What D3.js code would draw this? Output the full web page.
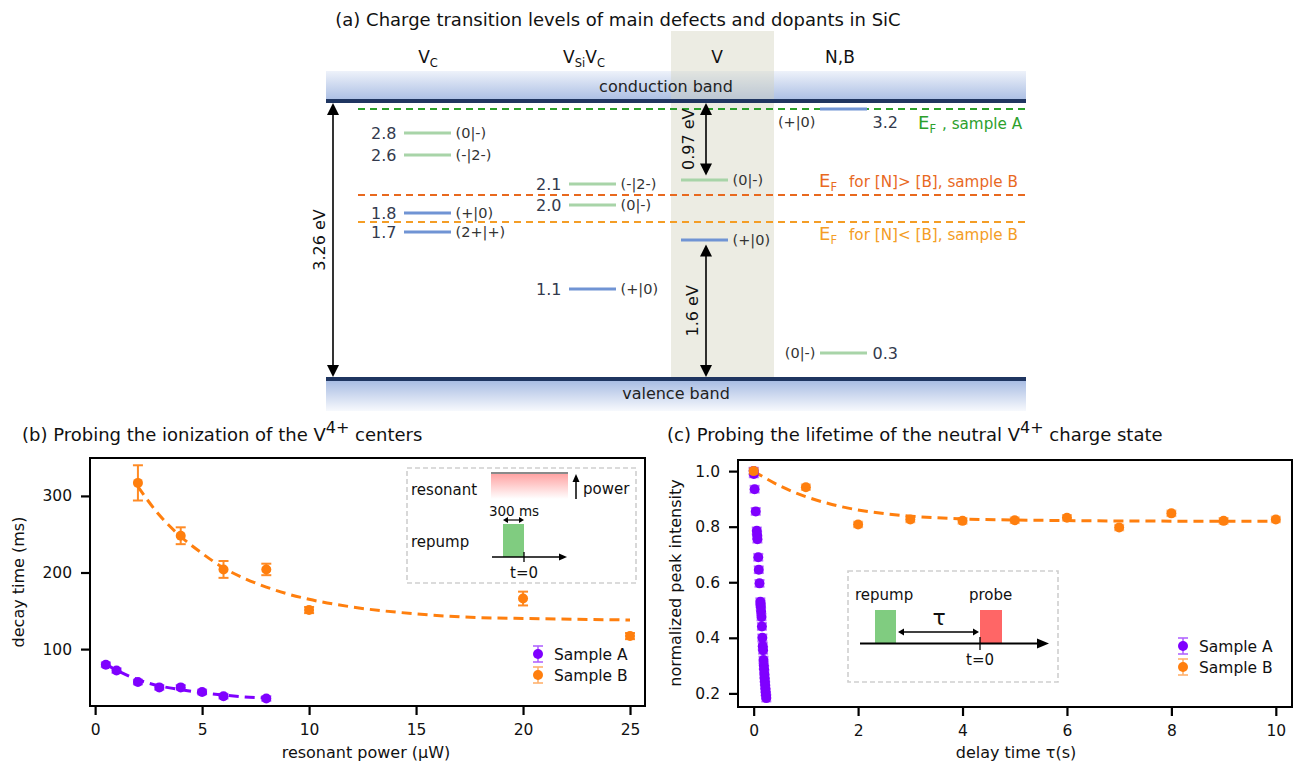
<!DOCTYPE html>
<html>
<head>
<meta charset="utf-8">
<script src="https://cdn.jsdelivr.net/npm/d3@7"></script>
<style>
  body { margin: 0; background: #fff; }
  svg { font-family: "DejaVu Sans", Verdana, sans-serif; }
</style>
</head>
<body>
<svg id="fig" width="1296" height="767"></svg>
<script>
//-------------------------------
// (a) charge transition levels
var bandGap = 3.26;
var levelColumn = ["VC", "VC", "VC", "VC", "VSiVC", "VSiVC", "VSiVC", "V", "V", "NB", "NB"];
var levelValue = ["2.8", "2.6", "1.8", "1.7", "2.1", "2.0", "1.1", "", "", "3.2", "0.3"];
var levelPos = [2.885, 2.627, 1.947, 1.724, 2.287, 2.040, 1.055, 2.334, 1.630, 3.166, 0.305]; // drawn height above VB (eV)
var levelTransition = ["(0|-)", "(-|2-)", "(+|0)", "(2+|+)", "(-|2-)", "(0|-)", "(+|0)", "(0|-)", "(+|0)", "(+|0)", "(0|-)"];
var levelType = ["acc", "acc", "don", "don", "acc", "acc", "don", "acc", "don", "don", "acc"];
var fermiPos = [3.166, 2.158, 1.841];
var fermiText = [", sample A", "for [N]> [B], sample B", "for [N]< [B], sample B"];
var vGapArrows = [[bandGap, 2.334, "0.97 eV"], [1.630, 0, "1.6 eV"]];

// (b) decay time vs resonant power
var powerA = [0.5, 1, 2, 3, 4, 5, 6, 8];
var decayA = [79.5, 72, 57, 50, 50, 44, 38.5, 35.5];
var decayAErr = [3, 3, 3, 3, 3, 3, 3, 3];
var powerB = [2, 4, 6, 8, 10, 20, 25];
var decayB = [317, 248, 204, 204, 151, 166, 117];
var decayBErr = [23, 11, 11, 7.5, 4, 9, 4];
var fitPowerA = [0.5, 1, 2, 3, 4, 5, 6, 7, 8];
var fitDecayA = [80, 72.5, 60, 52, 47, 43, 40, 37.5, 36];
var fitPowerB = [2, 3, 4, 5, 6, 7, 8, 9, 10, 12, 15, 18, 20, 25];
var fitDecayB = [312, 275, 247, 225, 206, 192, 181, 172, 165, 155, 146, 141, 140, 138];

// (c) normalized peak intensity vs delay time
var delayA = [0.000, 0.003, 0.018, 0.040, 0.060, 0.066, 0.072, 0.088, 0.098, 0.112, 0.128, 0.132, 0.137, 0.142, 0.150,
              0.158, 0.166, 0.174, 0.180, 0.188, 0.194, 0.200, 0.205, 0.210, 0.215, 0.220, 0.225, 0.230, 0.236, 0.242];
var intensA = [1.000, 0.990, 0.935, 0.855, 0.785, 0.770, 0.755, 0.690, 0.645, 0.596, 0.530, 0.522, 0.512, 0.495, 0.475,
               0.441, 0.400, 0.370, 0.355, 0.320, 0.300, 0.287, 0.270, 0.254, 0.242, 0.230, 0.216, 0.205, 0.193, 0.183];
var delayB = [0, 1, 2, 3, 4, 5, 6, 7, 8, 9, 10];
var intensB = [1.0, 0.942, 0.808, 0.826, 0.821, 0.823, 0.832, 0.797, 0.848, 0.821, 0.826];
var intensBErr = [0.01, 0.01, 0.01, 0.01, 0.01, 0.01, 0.01, 0.01, 0.01, 0.01, 0.01];
var fitDelayB = [0, 0.25, 0.5, 0.75, 1, 1.5, 2, 2.5, 3, 4, 5, 6, 8, 10];
var fitIntensB = [1.0, 0.972, 0.947, 0.926, 0.908, 0.880, 0.860, 0.847, 0.838, 0.828, 0.824, 0.822, 0.820, 0.820];

var colA = "#7f00ff", colB = "#ff7f0e";
var svg = d3.select("#fig");

function arrowHead(g, x, y, dir, len, hw) {
  var p = d3.path();
  if (dir == "up") { p.moveTo(x, y); p.lineTo(x - hw, y + len); p.lineTo(x + hw, y + len); }
  if (dir == "down") { p.moveTo(x, y); p.lineTo(x - hw, y - len); p.lineTo(x + hw, y - len); }
  if (dir == "left") { p.moveTo(x, y); p.lineTo(x + len, y - hw); p.lineTo(x + len, y + hw); }
  if (dir == "right") { p.moveTo(x, y); p.lineTo(x - len, y - hw); p.lineTo(x - len, y + hw); }
  p.closePath();
  g.append("path").attr("d", p.toString()).attr("fill", "#000");
}

//-------------------------------
// panel (a)
var defs = svg.append("defs");
var gCB = defs.append("linearGradient").attr("id", "cb").attr("x1", 0).attr("y1", 0).attr("x2", 0).attr("y2", 1);
gCB.append("stop").attr("offset", 0).attr("stop-color", "#eef2fa");
gCB.append("stop").attr("offset", 1).attr("stop-color", "#a9bde3");
var gVB = defs.append("linearGradient").attr("id", "vb").attr("x1", 0).attr("y1", 0).attr("x2", 0).attr("y2", 1);
gVB.append("stop").attr("offset", 0).attr("stop-color", "#a9bde3");
gVB.append("stop").attr("offset", 1).attr("stop-color", "#f7f9fd");
var gRes = defs.append("linearGradient").attr("id", "res").attr("x1", 0).attr("y1", 0).attr("x2", 0).attr("y2", 1);
gRes.append("stop").attr("offset", 0).attr("stop-color", "#ff9c9c");
gRes.append("stop").attr("offset", 1).attr("stop-color", "#ffffff");

var ga = svg.append("g");
var eY = d3.scaleLinear().domain([0, bandGap]).range([379, 101]);
var aX = [326, 1026];
var colX = d3.scaleOrdinal().domain(["VC", "VSiVC", "V", "NB"]).range([427.5, 592.5, 704.5, 843.5]);

ga.append("text").attr("x", 618).attr("y", 26).attr("text-anchor", "middle")
  .attr("font-size", 18).attr("fill", "#111")
  .text("(a) Charge transition levels of main defects and dopants in SiC");

// bands
ga.append("rect").attr("x", aX[0]).attr("y", eY(bandGap) - 30).attr("width", aX[1] - aX[0]).attr("height", 30).attr("fill", "url(#cb)");
ga.append("rect").attr("x", aX[0]).attr("y", eY(0) + 2).attr("width", aX[1] - aX[0]).attr("height", 30).attr("fill", "url(#vb)");

// V column shading
ga.append("rect").attr("x", 671).attr("y", 31).attr("width", 103).attr("height", eY(0) - 31)
  .attr("fill", "#d2d2bd").attr("opacity", 0.42);

ga.append("rect").attr("x", aX[0]).attr("y", eY(bandGap) - 2).attr("width", aX[1] - aX[0]).attr("height", 4).attr("fill", "#1f3560");
ga.append("rect").attr("x", aX[0]).attr("y", eY(0) - 2).attr("width", aX[1] - aX[0]).attr("height", 4).attr("fill", "#1f3560");
ga.append("text").attr("x", 666).attr("y", eY(bandGap) - 9).attr("text-anchor", "middle").attr("font-size", 16).attr("fill", "#222").text("conduction band");
ga.append("text").attr("x", 676).attr("y", eY(0) + 20).attr("text-anchor", "middle").attr("font-size", 16).attr("fill", "#222").text("valence band");

// column headings
function heading(x, parts) {
  var t = ga.append("text").attr("x", x).attr("y", 63).attr("text-anchor", "middle").attr("font-size", 17).attr("fill", "#111");
  parts.forEach(function(p) {
    if (p[1]) t.append("tspan").attr("font-size", 11.5).attr("dy", 4).text(p[0]);
    else t.append("tspan").attr("font-size", 17).attr("dy", p[2] || 0).text(p[0]);
  });
}
heading(428, [["V"], ["C", true]]);
heading(584, [["V"], ["Si", true], ["V", false, -4], ["C", true]]);
heading(717, [["V"]]);
heading(840, [["N,B"]]);

// Fermi levels
var fermiCol = ["#2ca02c", "#e8691f", "#f49d25"];
var fermiLabelY = [20, -8, 18];
var fermiLabelX = [918, 819, 819];
var fermiGap = [6, 12, 12];
fermiPos.forEach(function(e, i) {
  ga.append("line").attr("x1", 358).attr("x2", aX[1]).attr("y1", eY(e)).attr("y2", eY(e))
    .attr("stroke", fermiCol[i]).attr("stroke-width", 2).attr("stroke-dasharray", "7,5");
  var t = ga.append("text").attr("x", fermiLabelX[i]).attr("y", eY(e) + fermiLabelY[i]).attr("fill", fermiCol[i]);
  t.append("tspan").attr("font-size", 18).text("E");
  t.append("tspan").attr("font-size", 11.5).attr("dy", 4).text("F");
  t.append("tspan").attr("font-size", 15.2).attr("dy", -4).attr("dx", fermiGap[i]).text(fermiText[i]);
});

// levels
levelPos.forEach(function(e, i) {
  var cx = colX(levelColumn[i]), y = eY(e);
  ga.append("line").attr("x1", cx - 23.5).attr("x2", cx + 23.5).attr("y1", y).attr("y2", y)
    .attr("stroke", levelType[i] == "acc" ? "#a8d4a8" : "#7094d4").attr("stroke-width", 3);
  if (levelColumn[i] == "NB") {
    var dy = e > 3 ? 18 : 5;
    ga.append("text").attr("x", cx - 28).attr("y", y + dy).attr("text-anchor", "end")
      .attr("font-size", 14.5).attr("fill", "#333").text(levelTransition[i]);
    ga.append("text").attr("x", cx + 29).attr("y", y + dy + 1).attr("font-size", 16).attr("fill", "#333a4d").text(levelValue[i]);
  } else {
    ga.append("text").attr("x", cx + 28).attr("y", y + 5).attr("font-size", 14.5).attr("fill", "#333").text(levelTransition[i]);
    if (levelValue[i])
      ga.append("text").attr("x", cx - 31).attr("y", y + 6).attr("text-anchor", "end")
        .attr("font-size", 16).attr("fill", "#333a4d").text(levelValue[i]);
  }
});

// band gap arrow
function vArrow(x, e0, e1, label, lx) {
  var y0 = eY(e0), y1 = eY(e1);
  var top = Math.min(y0, y1) + 2, bot = Math.max(y0, y1) - 2;
  ga.append("line").attr("x1", x).attr("x2", x).attr("y1", top + 10).attr("y2", bot - 10).attr("stroke", "#000").attr("stroke-width", 1.6);
  arrowHead(ga, x, top, "up", 12, 6);
  arrowHead(ga, x, bot, "down", 12, 6);
  ga.append("text").attr("transform", "translate(" + lx + "," + ((top + bot) / 2) + ") rotate(-90)")
    .attr("text-anchor", "middle").attr("dy", "0.35em").attr("font-size", 16).attr("fill", "#111").text(label);
}
vArrow(333, bandGap, 0, "3.26 eV", 319);
vArrow(706, vGapArrows[0][0], vGapArrows[0][1] + 0.03, vGapArrows[0][2], 688);
vArrow(706, vGapArrows[1][0] - 0.03, vGapArrows[1][1], vGapArrows[1][2], 692);

//-------------------------------
// data panels
function panel(box, xDom, yDom, xTicks, yTicks, yFmt) {
  var g = svg.append("g");
  var x = d3.scaleLinear().domain(xDom).range([box.l, box.r]);
  var y = d3.scaleLinear().domain(yDom).range([box.b, box.t]);
  var ax = g.append("g").attr("transform", "translate(0," + box.b + ")")
    .call(d3.axisBottom(x).tickValues(xTicks).tickFormat(d3.format("d")).tickSize(9).tickPadding(9).tickSizeOuter(0));
  var ay = g.append("g").attr("transform", "translate(" + box.l + ",0)")
    .call(d3.axisLeft(y).tickValues(yTicks).tickFormat(d3.format(yFmt)).tickSize(9).tickPadding(9).tickSizeOuter(0));
  [ax, ay].forEach(function(a) {
    a.select(".domain").remove();
    a.selectAll("line").attr("stroke", "#000").attr("stroke-width", 2.2);
    a.selectAll("text").attr("font-size", 15.5).attr("fill", "#111").attr("font-family", "DejaVu Sans, Verdana, sans-serif");
  });
  g.append("rect").attr("x", box.l).attr("y", box.t).attr("width", box.r - box.l).attr("height", box.b - box.t)
    .attr("fill", "none").attr("stroke", "#000").attr("stroke-width", 2);
  return { g: g, x: x, y: y };
}

function fitLine(p, xs, ys, color) {
  var line = d3.line().x(function(d) { return p.x(d[0]); }).y(function(d) { return p.y(d[1]); }).curve(d3.curveMonotoneX);
  p.g.append("path").datum(d3.zip(xs, ys)).attr("d", line).attr("fill", "none")
    .attr("stroke", color).attr("stroke-width", 3).attr("stroke-dasharray", "10,6");
}

function points(p, xs, ys, errs, color, errOp) {
  var rows = d3.zip(xs, ys, errs);
  var eg = p.g.append("g").attr("stroke", color).attr("stroke-width", 2).attr("opacity", errOp);
  rows.forEach(function(d) {
    var cx = p.x(d[0]), y0 = p.y(d[1] - d[2]), y1 = p.y(d[1] + d[2]);
    eg.append("line").attr("x1", cx).attr("x2", cx).attr("y1", y0).attr("y2", y1);
    eg.append("line").attr("x1", cx - 5).attr("x2", cx + 5).attr("y1", y0).attr("y2", y0);
    eg.append("line").attr("x1", cx - 5).attr("x2", cx + 5).attr("y1", y1).attr("y2", y1);
  });
  p.g.append("g").selectAll("circle").data(rows).enter().append("circle")
    .attr("cx", function(d) { return p.x(d[0]); }).attr("cy", function(d) { return p.y(d[1]); })
    .attr("r", 5).attr("fill", color);
}

function legend(g, x, y0, gap) {
  [["Sample A", colA], ["Sample B", colB]].forEach(function(s, i) {
    var y = y0 + i * gap;
    var eg = g.append("g").attr("stroke", s[1]).attr("stroke-width", 1.6).attr("opacity", 0.6);
    eg.append("line").attr("x1", x).attr("x2", x).attr("y1", y - 8).attr("y2", y + 8);
    eg.append("line").attr("x1", x - 5).attr("x2", x + 5).attr("y1", y - 8).attr("y2", y - 8);
    eg.append("line").attr("x1", x - 5).attr("x2", x + 5).attr("y1", y + 8).attr("y2", y + 8);
    g.append("circle").attr("cx", x).attr("cy", y).attr("r", 5).attr("fill", s[1]);
    g.append("text").attr("x", x + 16).attr("y", y + 5.5).attr("font-size", 15.5).attr("fill", "#111").text(s[0]);
  });
}

function title(x, y, pre, post) {
  var t = svg.append("text").attr("x", x).attr("y", y).attr("font-size", 18).attr("fill", "#111");
  t.append("tspan").text(pre);
  t.append("tspan").attr("dy", -8).attr("font-size", 16).text("4+");
  t.append("tspan").attr("dy", 8).text(post);
}

// (b)
var pb = panel({ l: 90, r: 645, t: 458, b: 706 }, [-0.24, 25.7], [25.7, 349.5], [0, 5, 10, 15, 20, 25], [100, 200, 300], "d");
title(22, 441, "(b) Probing the ionization of the V", " centers");
fitLine(pb, fitPowerB, fitDecayB, colB);
fitLine(pb, fitPowerA, fitDecayA, colA);
points(pb, powerA, decayA, decayAErr, colA, 0.6);
points(pb, powerB, decayB, decayBErr, colB, 0.9);
pb.g.append("text").attr("x", 366).attr("y", 758).attr("text-anchor", "middle").attr("font-size", 16).attr("fill", "#111").text("resonant power (μW)");
pb.g.append("text").attr("transform", "translate(18,582) rotate(-90)").attr("text-anchor", "middle").attr("dy", "0.35em")
  .attr("font-size", 16).attr("fill", "#111").text("decay time (ms)");
legend(pb.g, 538, 654, 21);

// inset (b)
var ib = pb.g.append("g");
ib.append("rect").attr("x", 407).attr("y", 468).attr("width", 229).attr("height", 115).attr("fill", "#fff")
  .attr("stroke", "#cfcfcf").attr("stroke-width", 1.6).attr("stroke-dasharray", "5,3");
ib.append("text").attr("x", 411).attr("y", 495).attr("font-size", 15).attr("fill", "#111").text("resonant");
ib.append("text").attr("x", 411).attr("y", 547).attr("font-size", 15).attr("fill", "#111").text("repump");
ib.append("rect").attr("x", 491).attr("y", 472).attr("width", 77).attr("height", 27).attr("fill", "url(#res)");
ib.append("rect").attr("x", 491).attr("y", 472).attr("width", 77).attr("height", 2).attr("fill", "#8a8a8a");
ib.append("line").attr("x1", 576).attr("x2", 576).attr("y1", 499).attr("y2", 481).attr("stroke", "#000").attr("stroke-width", 1.5);
arrowHead(ib, 576, 474, "up", 8, 3.5);
ib.append("text").attr("x", 583).attr("y", 494).attr("font-size", 15).attr("fill", "#111").text("power");
ib.append("text").attr("x", 514).attr("y", 516).attr("text-anchor", "middle").attr("font-size", 13.5).attr("fill", "#111").text("300 ms");
ib.append("line").attr("x1", 507).attr("x2", 520).attr("y1", 520).attr("y2", 520).attr("stroke", "#000").attr("stroke-width", 1.2);
arrowHead(ib, 503, 520, "left", 5, 3);
arrowHead(ib, 524, 520, "right", 5, 3);
ib.append("rect").attr("x", 503).attr("y", 524).attr("width", 21).attr("height", 33).attr("fill", "#80cc80");
ib.append("line").attr("x1", 492).attr("x2", 561).attr("y1", 557).attr("y2", 557).attr("stroke", "#000").attr("stroke-width", 1.3);
arrowHead(ib, 567, 557, "right", 8, 3.5);
ib.append("line").attr("x1", 524).attr("x2", 524).attr("y1", 552).attr("y2", 562).attr("stroke", "#000").attr("stroke-width", 1.3);
ib.append("text").attr("x", 524).attr("y", 578).attr("text-anchor", "middle").attr("font-size", 15).attr("fill", "#111").text("t=0");

// (c)
var pc = panel({ l: 738, r: 1292, t: 460, b: 707 }, [-0.30, 10.31], [0.151, 1.040], [0, 2, 4, 6, 8, 10], [0.2, 0.4, 0.6, 0.8, 1.0], ".1f");
title(667, 441, "(c) Probing the lifetime of the neutral V", " charge state");
fitLine(pc, fitDelayB, fitIntensB, colB);
points(pc, delayA, intensA, delayA.map(function() { return 0.012; }), colA, 0.55);
points(pc, delayB, intensB, intensBErr, colB, 0.5);
pc.g.append("text").attr("x", 1016).attr("y", 758).attr("text-anchor", "middle").attr("font-size", 16).attr("fill", "#111").text("delay time τ(s)");
pc.g.append("text").attr("transform", "translate(675,583) rotate(-90)").attr("text-anchor", "middle").attr("dy", "0.35em")
  .attr("font-size", 16).attr("fill", "#111").text("normalized peak intensity");
legend(pc.g, 1183, 646, 21);

// inset (c)
var ic = pc.g.append("g");
ic.append("rect").attr("x", 848).attr("y", 571).attr("width", 210).attr("height", 111).attr("fill", "#fff")
  .attr("stroke", "#cfcfcf").attr("stroke-width", 1.6).attr("stroke-dasharray", "5,3");
ic.append("text").attr("x", 855).attr("y", 600).attr("font-size", 15).attr("fill", "#111").text("repump");
ic.append("text").attr("x", 969).attr("y", 600).attr("font-size", 15).attr("fill", "#111").text("probe");
ic.append("rect").attr("x", 875).attr("y", 610).attr("width", 21).attr("height", 33).attr("fill", "#80cc80");
ic.append("rect").attr("x", 980).attr("y", 610).attr("width", 22).attr("height", 33).attr("fill", "#ff6666");
ic.append("line").attr("x1", 860).attr("x2", 1038).attr("y1", 643.5).attr("y2", 643.5).attr("stroke", "#000").attr("stroke-width", 1.8);
arrowHead(ic, 1049, 643.5, "right", 12, 5);
ic.append("line").attr("x1", 980).attr("x2", 980).attr("y1", 637).attr("y2", 650).attr("stroke", "#000").attr("stroke-width", 1.3);
ic.append("line").attr("x1", 903).attr("x2", 974).attr("y1", 632).attr("y2", 632).attr("stroke", "#000").attr("stroke-width", 1.3);
arrowHead(ic, 898, 632, "left", 6, 3.5);
arrowHead(ic, 979, 632, "right", 6, 3.5);
ic.append("text").attr("x", 939).attr("y", 625).attr("text-anchor", "middle").attr("font-size", 22).attr("fill", "#111").text("τ");
ic.append("text").attr("x", 980).attr("y", 665).attr("text-anchor", "middle").attr("font-size", 15).attr("fill", "#111").text("t=0");
</script>
</body>
</html>
